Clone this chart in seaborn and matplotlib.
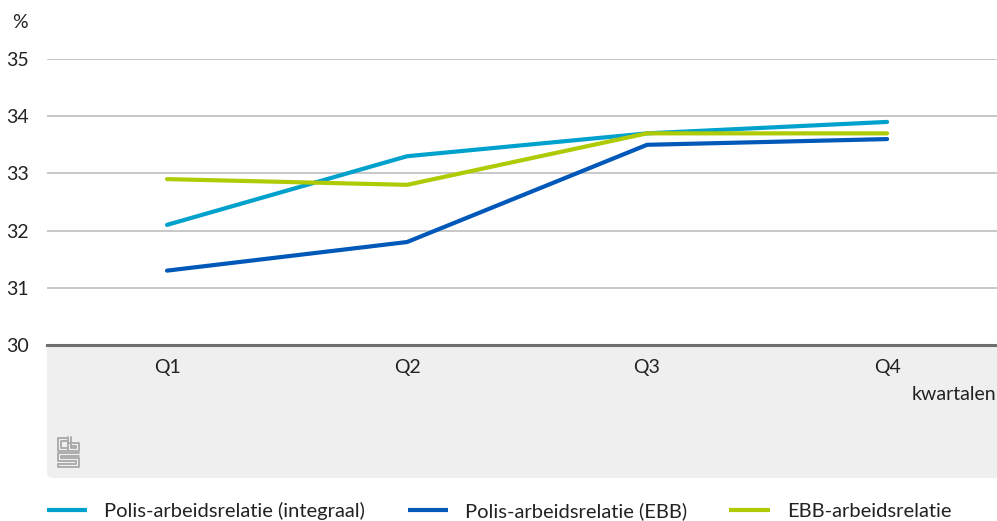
import matplotlib
matplotlib.use("Agg")
import matplotlib.pyplot as plt
import seaborn as sns
import pandas as pd
from matplotlib.patches import FancyBboxPatch
from matplotlib.lines import Line2D

quarters = ["Q1", "Q2", "Q3", "Q4"]
polis_integraal = [32.1, 33.3, 33.7, 33.9]
polis_ebb = [31.3, 31.8, 33.5, 33.6]
ebb_arbeidsrelatie = [32.9, 32.8, 33.7, 33.7]
series_names = ["Polis-arbeidsrelatie (integraal)", "Polis-arbeidsrelatie (EBB)", "EBB-arbeidsrelatie"]
yticks = [30, 31, 32, 33, 34, 35]

colors = ["#00a1cd", "#0058b8", "#afcb05"]

rows = []
for name, vals in zip(series_names, [polis_integraal, polis_ebb, ebb_arbeidsrelatie]):
    for i, (q, v) in enumerate(zip(quarters, vals)):
        rows.append({"x": i, "kwartaal": q, "waarde": v, "reeks": name})
df = pd.DataFrame(rows)

sns.set_style("white")
plt.rcParams["font.family"] = ["Lato", "DejaVu Sans"]

W, H = 997, 521
fig = plt.figure(figsize=(W / 100, H / 100), dpi=100)

# grey band beneath axis
band = FancyBboxPatch((47 / W, 1 - 478 / H), 1.0, (478 - 345) / H,
                      boxstyle="round,pad=0,rounding_size=0.008",
                      transform=fig.transFigure, facecolor="#efefef",
                      edgecolor="none", zorder=-5)
fig.patches.append(band)

ax = fig.add_axes([47 / W, 1 - 345 / H, (997 - 47) / W, (345 - 59) / H])
ax.set_facecolor("none")
ax.set_zorder(2)

sns.lineplot(data=df, x="x", y="waarde", hue="reeks", palette=colors,
             linewidth=3, ax=ax, legend=False, solid_capstyle="round")

ax.set_xlim(-0.5, 3.458)
ax.set_ylim(30, 35)
ax.set_yticks(yticks)
ax.set_yticklabels([str(t) for t in yticks], fontsize=14, color="#222222")
ax.set_xticks(range(len(quarters)))
ax.set_xticklabels(quarters, fontsize=14, color="#222222")
ax.tick_params(axis="y", length=0, pad=13)
ax.tick_params(axis="x", length=10, width=1, color="#c8c8c8", pad=0, direction="out")
ax.set_xlabel("")
ax.set_ylabel("")
for s in ["top", "right", "left"]:
    ax.spines[s].set_visible(False)
ax.spines["bottom"].set_color("#6e6e6e")
ax.spines["bottom"].set_linewidth(2.2)
ax.spines["bottom"].set_zorder(5)
ax.grid(axis="y", color="#c4c4c4", linewidth=1.3)
ax.grid(axis="x", visible=False)
ax.set_axisbelow(True)

fig.text(12 / W, 1 - 22 / H, "%", fontsize=14, color="#222222", va="center", ha="left")
fig.text(996 / W, 1 - 395 / H, "kwartalen", fontsize=14, color="#222222", va="center", ha="right")

# cbs logo approximation
logo_c = "#a8a8a8"
def fl(xs, ys):
    fig.lines.append(Line2D([x / W for x in xs], [1 - y / H for y in ys],
                            transform=fig.transFigure, color=logo_c, linewidth=1.3))
# c
fl([67, 58, 58, 67], [438, 438, 451, 451])
fl([67, 61, 61, 67], [441, 441, 448, 448])
# b
fl([68, 68, 79, 79, 68], [437, 451, 451, 443, 443])
fl([71, 71, 76, 76, 71], [437, 448, 448, 446, 446])
# s
fl([79, 58, 58, 76, 76, 58], [453, 453, 461, 461, 464, 464])
fl([79, 61, 61, 79, 79, 58, 58], [456, 456, 458, 458, 467, 467, 464])

handles = [Line2D([0], [0], color=c, linewidth=3, solid_capstyle="butt") for c in colors]
fig.legend(handles, series_names, loc="center left", bbox_to_anchor=(47 / W, 1 - 511 / H),
           ncol=3, frameon=False, fontsize=14.5, handlelength=2.0, handletextpad=0.85,
           columnspacing=2.1, labelcolor="#222222", borderaxespad=0, borderpad=0)

fig.savefig("out.png", dpi=100)
